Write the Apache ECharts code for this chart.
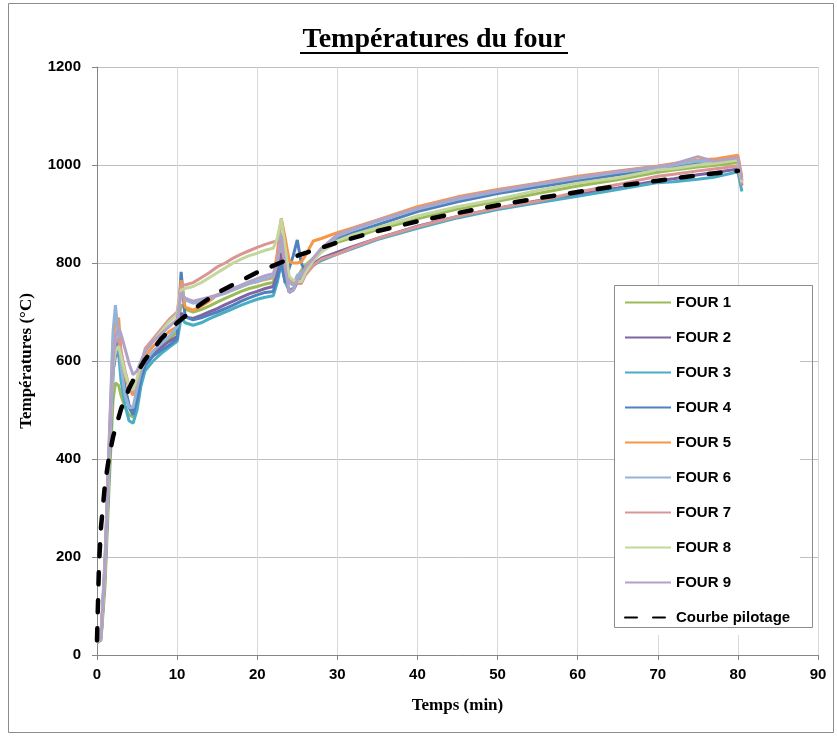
<!DOCTYPE html>
<html>
<head>
<meta charset="utf-8">
<script src="https://cdn.jsdelivr.net/npm/echarts@6/dist/echarts.min.js"></script>
<style>
html, body { margin: 0; padding: 0; background: #fff; }
#chart { width: 837px; height: 737px; }
</style>
</head>
<body>
<div id="chart"></div>
<script>
// temps (min) des mesures four
const tFour = [0, 0.5, 1, 1.5, 2, 2.3, 2.7, 3, 3.5, 4, 4.5, 5, 5.5, 6, 7, 8, 9, 10, 10.5, 11,
  12, 13, 14, 15, 16, 17, 18, 19, 20, 21, 22, 22.5, 23, 23.5, 24, 24.5, 25, 25.5, 26, 27,
  28, 30, 32, 35, 40, 45, 50, 55, 60, 65, 70, 72, 75, 77, 80, 80.5]

const four1 = [25, 30, 140, 340, 520, 555, 550, 530, 505, 490, 486, 520, 560, 590, 615, 630, 645, 660, 715, 706,
  700, 705, 712, 720, 728, 735, 742, 748, 752, 757, 760, 790, 840, 800, 760, 755, 770, 785, 795, 810,
  825, 842, 852, 868, 890, 910, 926, 942, 957, 970, 985, 990, 996, 999, 1005, 960]
const four2 = [25, 35, 170, 380, 580, 610, 615, 590, 545, 510, 500, 530, 570, 595, 615, 628, 640, 650, 698, 690,
  687, 693, 700, 707, 715, 722, 730, 737, 742, 748, 752, 780, 820, 770, 740, 745, 760, 770, 785, 798,
  810, 822, 834, 850, 875, 895, 912, 927, 940, 953, 968, 972, 980, 984, 992, 958]
const four3 = [25, 35, 160, 370, 570, 630, 615, 560, 510, 478, 473, 500, 550, 580, 600, 615, 628, 640, 688, 678,
  673, 678, 686, 693, 700, 707, 714, 720, 726, 730, 733, 760, 800, 760, 745, 748, 760, 768, 780, 795,
  805, 818, 830, 848, 871, 892, 909, 923, 936, 950, 964, 966, 971, 975, 986, 946]
const four4 = [25, 35, 185, 410, 610, 640, 630, 600, 545, 505, 490, 520, 565, 590, 610, 622, 632, 645, 782, 690,
  684, 688, 694, 700, 707, 714, 722, 729, 735, 740, 742, 770, 800, 760, 790, 815, 847, 800, 782, 805,
  825, 850, 862, 878, 905, 925, 942, 955, 968, 980, 990, 995, 1003, 1006, 1012, 968]
const four5 = [25, 35, 190, 420, 640, 680, 688, 620, 570, 545, 530, 560, 590, 610, 630, 645, 660, 670, 765, 710,
  704, 712, 722, 735, 742, 745, 752, 758, 762, 766, 770, 820, 891, 850, 803, 800, 800, 802, 815, 845,
  850, 862, 872, 888, 915, 935, 950, 963, 977, 988, 998, 1003, 1010, 1012, 1020, 975]
const four6 = [25, 40, 200, 430, 660, 714, 650, 590, 530, 505, 505, 545, 580, 600, 620, 635, 650, 670, 745, 725,
  718, 722, 728, 733, 738, 745, 752, 758, 762, 768, 772, 800, 862, 800, 760, 755, 775, 780, 785, 805,
  825, 855, 868, 885, 910, 930, 946, 960, 973, 985, 995, 1000, 1008, 1005, 1012, 965]
const four7 = [25, 35, 175, 395, 600, 640, 645, 620, 580, 550, 535, 560, 590, 625, 645, 665, 685, 700, 755, 755,
  760, 770, 780, 792, 800, 810, 818, 825, 832, 838, 843, 845, 835, 800, 770, 760, 758, 758, 775, 795,
  808, 818, 832, 850, 874, 895, 912, 926, 945, 960, 977, 981, 988, 992, 998, 960]
const four8 = [25, 35, 170, 390, 590, 620, 630, 610, 575, 550, 541, 565, 595, 620, 640, 660, 680, 695, 745, 748,
  752, 760, 770, 780, 790, 800, 808, 815, 820, 826, 830, 850, 890, 830, 772, 765, 762, 762, 780, 805,
  822, 845, 858, 872, 896, 915, 930, 948, 963, 974, 990, 993, 1000, 1003, 1010, 965]
const four9 = [25, 35, 180, 400, 600, 650, 668, 655, 625, 595, 572, 580, 600, 620, 640, 655, 670, 685, 740, 728,
  722, 726, 730, 735, 740, 748, 755, 762, 768, 774, 778, 800, 855, 790, 740, 745, 765, 775, 790, 810,
  830, 858, 870, 887, 912, 933, 948, 962, 975, 987, 997, 1002, 1017, 1008, 1015, 970]

// courbe pilotage
const tPilot = [0, 0.25, 0.5, 1, 1.5, 2, 3, 4, 5, 6, 8, 10, 12, 15, 20, 25, 30, 35, 40, 45, 50, 55, 60, 65, 70, 75, 80]
const pilot = [30, 185, 261, 349, 404, 445, 502, 544, 576, 603, 645, 678, 705, 739, 781, 815, 842, 865, 885, 902, 918, 932, 945, 957, 968, 979, 988]

const names = ['FOUR 1', 'FOUR 2', 'FOUR 3', 'FOUR 4', 'FOUR 5', 'FOUR 6', 'FOUR 7', 'FOUR 8', 'FOUR 9']
const colors = ['#9BBB59', '#8064A2', '#4BACC6', '#4F81BD', '#F79646', '#95B3D7', '#D99694', '#C3D69B', '#B3A2C7']
const fours = [four1, four2, four3, four4, four5, four6, four7, four8, four9]

const sansBold = { fontFamily: 'Liberation Sans', fontWeight: 'bold', fontSize: 15, color: '#000' }
const serifBold = { fontFamily: 'Liberation Serif', fontWeight: 'bold', fontSize: 17, color: '#000' }

const series = fours.map((vals, i) => ({
  name: names[i],
  type: 'line',
  symbol: 'none',
  data: tFour.map((t, j) => [t, vals[j]]),
  lineStyle: { width: 3, color: colors[i] },
  itemStyle: { color: colors[i] }
}))
series.push({
  name: 'Courbe pilotage',
  type: 'line',
  symbol: 'none',
  data: tPilot.map((t, j) => [t, pilot[j]]),
  lineStyle: { width: 4.5, color: '#000', type: [12, 16], cap: 'round' },
  itemStyle: { color: '#000' },
  z: 5
})

const chart = echarts.init(document.getElementById('chart'))
chart.setOption({
  animation: false,
  grid: { left: 97, right: 19, top: 67, bottom: 82 },
  graphic: [
    { type: 'rect', shape: { x: 8.5, y: 3.5, width: 825, height: 729 }, style: { fill: 'none', stroke: '#8c8c8c', lineWidth: 1 } },
    { type: 'text', x: 434, y: 40, style: { text: 'Températures du four', fontFamily: 'Liberation Serif', fontWeight: 'bold', fontSize: 28, fill: '#000', textAlign: 'center', textVerticalAlign: 'middle' } },
    { type: 'line', shape: { x1: 300, y1: 53, x2: 568, y2: 53 }, style: { stroke: '#000', lineWidth: 2 } },
    { type: 'rect', z: 10, shape: { x: 614.5, y: 285.5, width: 198, height: 342 }, style: { fill: 'none', stroke: '#8c8c8c', lineWidth: 1 } }
  ],
  legend: {
    orient: 'vertical',
    left: 614,
    top: 285,
    padding: [10, 10, 10, 10],
    itemWidth: 46,
    itemHeight: 14,
    itemGap: 20,
    backgroundColor: '#fff',
    textStyle: sansBold,
    itemStyle: { color: 'rgba(0,0,0,0)', borderWidth: 0 },
    data: names.concat(['Courbe pilotage'])
  },
  xAxis: {
    type: 'value',
    min: 0,
    max: 90,
    interval: 10,
    name: 'Temps (min)',
    nameLocation: 'middle',
    nameGap: 42,
    nameTextStyle: serifBold,
    axisLine: { lineStyle: { color: '#868686' } },
    axisTick: { show: true, length: 5, lineStyle: { color: '#868686' } },
    axisLabel: Object.assign({ margin: 12, formatter: v => String(v) }, sansBold),
    splitLine: { lineStyle: { color: '#d9d9d9', width: 1 } }
  },
  yAxis: {
    type: 'value',
    min: 0,
    max: 1200,
    interval: 200,
    name: 'Températures (°C)',
    nameLocation: 'middle',
    nameGap: 62,
    nameTextStyle: serifBold,
    axisLine: { show: true, lineStyle: { color: '#868686' } },
    axisTick: { show: true, length: 5, lineStyle: { color: '#868686' } },
    axisLabel: Object.assign({ margin: 16, formatter: v => String(v) }, sansBold),
    splitLine: { lineStyle: { color: '#bfbfbf', width: 1 } }
  },
  series: series
})
</script>
</body>
</html>
